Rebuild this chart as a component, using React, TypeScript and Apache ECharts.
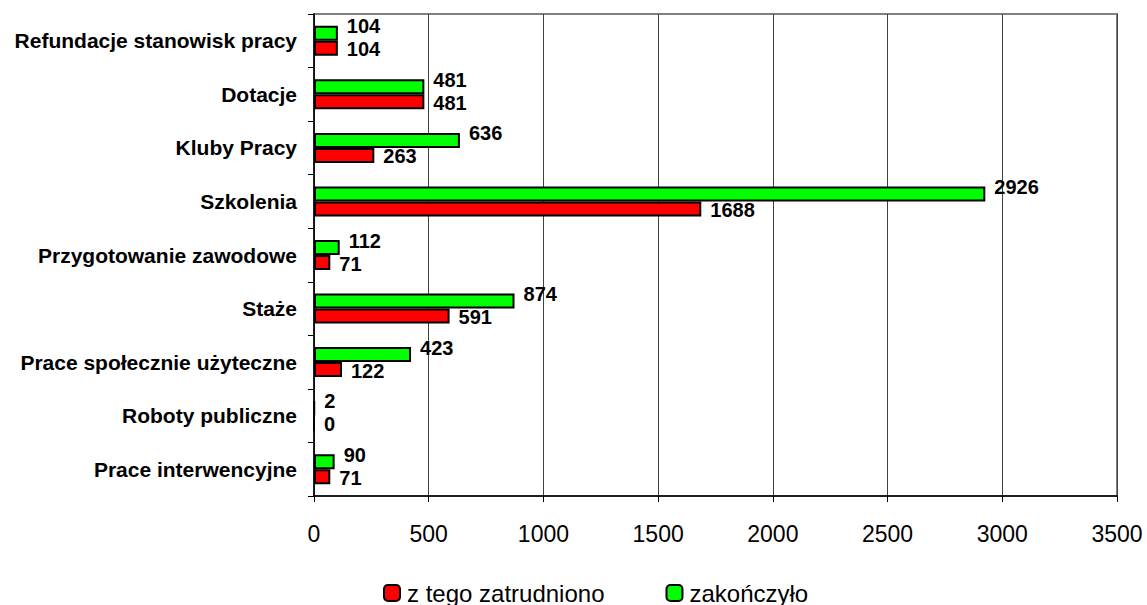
import React, { useEffect, useRef } from "react";
import * as echarts from "echarts";

const categories = [
  "Prace interwencyjne",
  "Roboty publiczne",
  "Prace społecznie użyteczne",
  "Staże",
  "Przygotowanie zawodowe",
  "Szkolenia",
  "Kluby Pracy",
  "Dotacje",
  "Refundacje stanowisk pracy",
];
const zatrudniono = [71, 0, 122, 591, 71, 1688, 263, 481, 104];
const zakonczylo = [90, 2, 423, 874, 112, 2926, 636, 481, 104];
const seriesNames = ["z tego zatrudniono", "zakończyło"];

const FONT = "'Liberation Sans', Arial, sans-serif";

export default function App() {
  const ref = useRef<HTMLDivElement>(null);
  useEffect(() => {
    const chart = echarts.init(ref.current!, null, { renderer: "svg" });
    const labelBase = {
      show: true,
      position: "right" as const,
      distance: 9,
      fontFamily: FONT,
      fontWeight: "bold" as const,
      fontSize: 20,
      color: "#000",
    };
    chart.setOption({
      animation: false,
      backgroundColor: "#fff",
      grid: {
        left: 314,
        right: 30,
        top: 14,
        bottom: 109,
        containLabel: false,
        show: true,
        borderColor: "#808080",
        borderWidth: 2,
      },
      xAxis: {
        type: "value",
        min: 0,
        max: 3500,
        interval: 500,
        axisLine: { show: true, lineStyle: { color: "#000", width: 1.5 } },
        axisTick: { show: true, length: 6, lineStyle: { color: "#000" } },
        splitLine: { show: true, lineStyle: { color: "#404040", width: 1 } },
        axisLabel: {
          margin: 26,
          fontFamily: FONT,
          fontSize: 23,
          color: "#000",
          formatter: (v: number) => String(v),
        },
      },
      yAxis: {
        type: "category",
        data: categories,
        axisLine: { show: true, lineStyle: { color: "#000", width: 1.5 } },
        axisTick: { show: true, length: 6, lineStyle: { color: "#000" } },
        axisLabel: {
          margin: 17,
          fontFamily: FONT,
          fontWeight: "bold",
          fontSize: 21,
          color: "#000",
        },
      },
      legend: {
        left: 383,
        top: 581,
        padding: 0,
        itemWidth: 16,
        itemHeight: 16,
        itemGap: 61,
        textStyle: { fontFamily: FONT, fontSize: 24, color: "#000", padding: [0, 0, 0, 2] },
        data: seriesNames,
      },
      series: [
        {
          name: seriesNames[1],
          type: "bar",
          data: zakonczylo,
          barWidth: 15,
          barGap: "0%",
          itemStyle: { color: "#00ff00", borderColor: "#000", borderWidth: 2 },
          label: { ...labelBase, offset: [0, -7] },
        },
        {
          name: seriesNames[0],
          type: "bar",
          data: zatrudniono,
          barWidth: 15,
          barGap: "0%",
          itemStyle: { color: "#ff0000", borderColor: "#000", borderWidth: 2 },
          label: { ...labelBase, offset: [0, 1] },
        },
      ],
    });
    return () => chart.dispose();
  }, []);
  return (
    <div
      ref={ref}
      style={{ position: "absolute", left: 0, top: 0, width: 1147, height: 605 }}
    />
  );
}
